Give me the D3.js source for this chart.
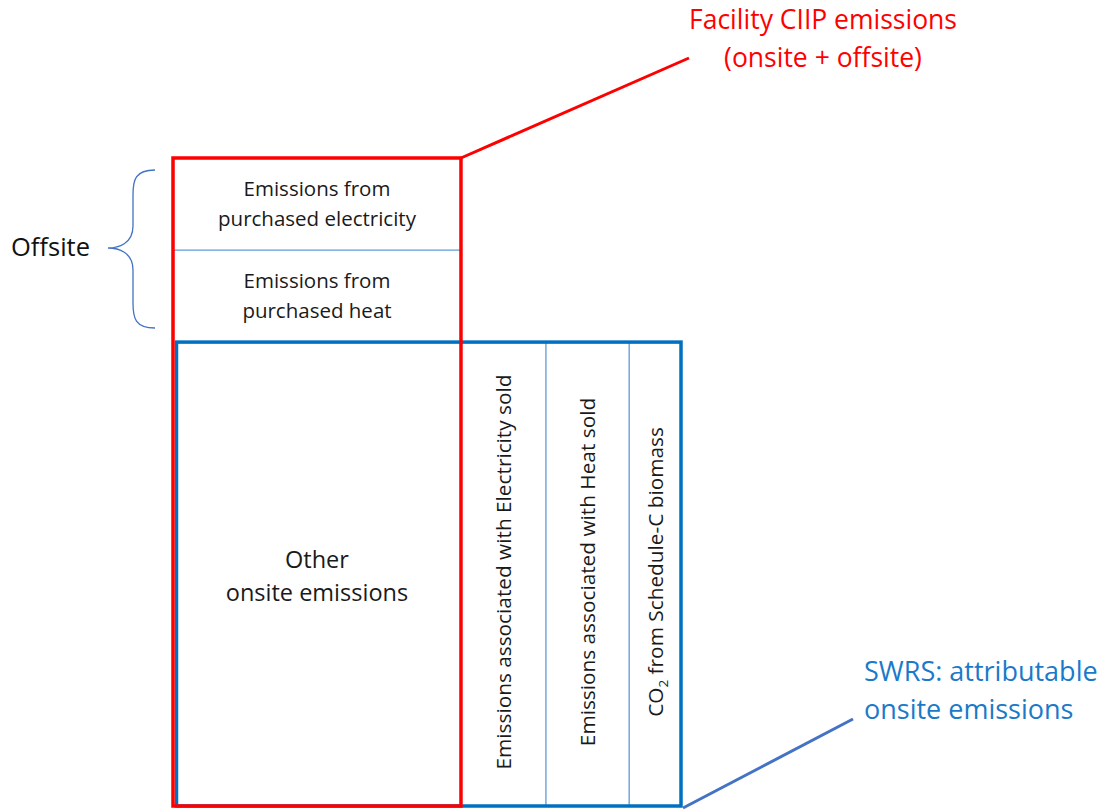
<!DOCTYPE html>
<html>
<head>
<meta charset="utf-8">
<script src="https://cdn.jsdelivr.net/npm/d3@7"></script>
<style>
  body { margin: 0; background: #fff; }
  svg { font-family: "Open Sans", Lato, sans-serif; }
</style>
</head>
<body>
<div class="chart"></div>
<script>
/* Offsite blocks stacked above the onsite block (relative heights) */
const offsiteLabels = [["Emissions from", "purchased electricity"], ["Emissions from", "purchased heat"]];
const offsiteHeights = [1, 1];
const onsiteHeight = 5.04;

/* Onsite columns (relative widths) */
const onsiteLabels = ["Other onsite emissions", "Emissions associated with Electricity sold",
                      "Emissions associated with Heat sold", "CO2 from Schedule-C biomass"];
const onsiteWidths = [3.39, 1, 0.98, 0.61];

const ciipTitle = ["Facility CIIP emissions", "(onsite + offsite)"];
const swrsTitle = ["SWRS: attributable", "onsite emissions"];
const offsiteTitle = "Offsite";

const w = 1104, h = 810;
const red = "#ff0000", blue = "#0070c0", thin = "#5b9bd5";

const svg = d3.select(".chart").append("svg")
  .attr("width", w).attr("height", h);

/* Scales: units -> pixels */
const totalW = d3.sum(onsiteWidths);
const totalH = d3.sum(offsiteHeights) + onsiteHeight;
const x = d3.scaleLinear().domain([0, totalW]).range([173, 681]);
const y = d3.scaleLinear().domain([0, totalH]).range([158, 806]);

const colStart = Array.from(d3.cumsum([0].concat(onsiteWidths)));
const rowStart = Array.from(d3.cumsum([0].concat(offsiteHeights)));
const onsiteTop = d3.sum(offsiteHeights);

/* thin column dividers */
svg.selectAll("line.div")
  .data(colStart.slice(2, onsiteWidths.length))
  .enter().append("line")
  .attr("x1", d => x(d)).attr("x2", d => x(d))
  .attr("y1", y(onsiteTop)).attr("y2", y(totalH))
  .attr("stroke", thin).attr("stroke-width", 1.3);

/* divider between offsite rows */
svg.selectAll("line.row")
  .data(rowStart.slice(1, offsiteHeights.length))
  .enter().append("line")
  .attr("x1", x(0)).attr("x2", x(onsiteWidths[0]))
  .attr("y1", d => y(d)).attr("y2", d => y(d))
  .attr("stroke", thin).attr("stroke-width", 1.3);

/* Blue SWRS box */
svg.append("rect")
  .attr("x", x(0) + 3.5).attr("y", y(onsiteTop))
  .attr("width", x(totalW) - x(0) - 3.5).attr("height", y(totalH) - y(onsiteTop))
  .attr("fill", "none").attr("stroke", blue).attr("stroke-width", 3.5);

/* Red CIIP box */
svg.append("rect")
  .attr("x", x(0)).attr("y", y(0))
  .attr("width", x(onsiteWidths[0]) - x(0)).attr("height", y(totalH) - y(0))
  .attr("fill", "none").attr("stroke", red).attr("stroke-width", 3.5);

/* Callout lines */
svg.append("line")
  .attr("x1", x(onsiteWidths[0])).attr("y1", y(0))
  .attr("x2", 689).attr("y2", 58)
  .attr("stroke", red).attr("stroke-width", 3);
svg.append("line")
  .attr("x1", x(totalW) + 2).attr("y1", 808)
  .attr("x2", 853).attr("y2", 719)
  .attr("stroke", "#4472c4").attr("stroke-width", 3);

/* Offsite labels */
offsiteLabels.forEach((lines, i) => {
  const cy = (y(rowStart[i]) + y(rowStart[i + 1])) / 2;
  const t = svg.append("text")
    .attr("text-anchor", "middle").attr("font-size", 20.5).attr("fill", "#1a1a1a");
  lines.forEach((l, j) => {
    t.append("tspan").attr("x", (x(0) + x(onsiteWidths[0])) / 2)
      .attr("y", cy - 8 + j * 30).text(l);
  });
});

/* Other onsite emissions */
const other = svg.append("text").attr("text-anchor", "middle")
  .attr("font-size", 23.5).attr("fill", "#1a1a1a");
["Other", "onsite emissions"].forEach((l, j) => {
  other.append("tspan").attr("x", (x(0) + x(onsiteWidths[0])) / 2)
    .attr("y", 568 + j * 33).text(l);
});

/* Rotated column labels */
onsiteLabels.slice(1).forEach((l, i) => {
  const cx = (x(colStart[i + 1]) + x(colStart[i + 2])) / 2 + 7.5;
  const cy = 572;
  const t = svg.append("text")
    .attr("transform", `translate(${cx},${cy}) rotate(-90)`)
    .attr("text-anchor", "middle").attr("font-size", 20.8).attr("fill", "#1a1a1a");
  if (l.startsWith("CO2")) {
    t.append("tspan").text("CO");
    t.append("tspan").attr("font-size", 13.5).attr("dy", 5).text("2");
    t.append("tspan").attr("dy", -5).text(" " + l.slice(4));
  } else {
    t.text(l);
  }
});

/* Offsite brace */
const bx = 155, bTop = 170, bBot = 328, bMid = 248, bTip = 108;
svg.append("path")
  .attr("d", `M${bx},${bTop} C${bx - 20},${bTop} ${bx - 22},${bTop + 10} ${bx - 22},${bTop + 25}
              L${bx - 22},${bMid - 22} C${bx - 22},${bMid - 4} ${bTip + 10},${bMid} ${bTip},${bMid}
              C${bTip + 10},${bMid} ${bx - 22},${bMid + 4} ${bx - 22},${bMid + 22}
              L${bx - 22},${bBot - 25} C${bx - 22},${bBot - 10} ${bx - 20},${bBot} ${bx},${bBot}`)
  .attr("fill", "none").attr("stroke", "#4472c4").attr("stroke-width", 1.3);

svg.append("text").attr("x", 11).attr("y", 256)
  .attr("font-size", 25.5).attr("fill", "#111").text(offsiteTitle);

/* Titles */
const ct = svg.append("text").attr("text-anchor", "middle")
  .attr("font-size", 26.5).attr("fill", red);
ciipTitle.forEach((l, j) => ct.append("tspan").attr("x", 823).attr("y", 29 + j * 38).text(l));

const st = svg.append("text").attr("font-size", 27).attr("fill", "#1a7ac8");
swrsTitle.forEach((l, j) => st.append("tspan").attr("x", 864).attr("y", 681 + j * 38).text(l));
</script>
</body>
</html>
